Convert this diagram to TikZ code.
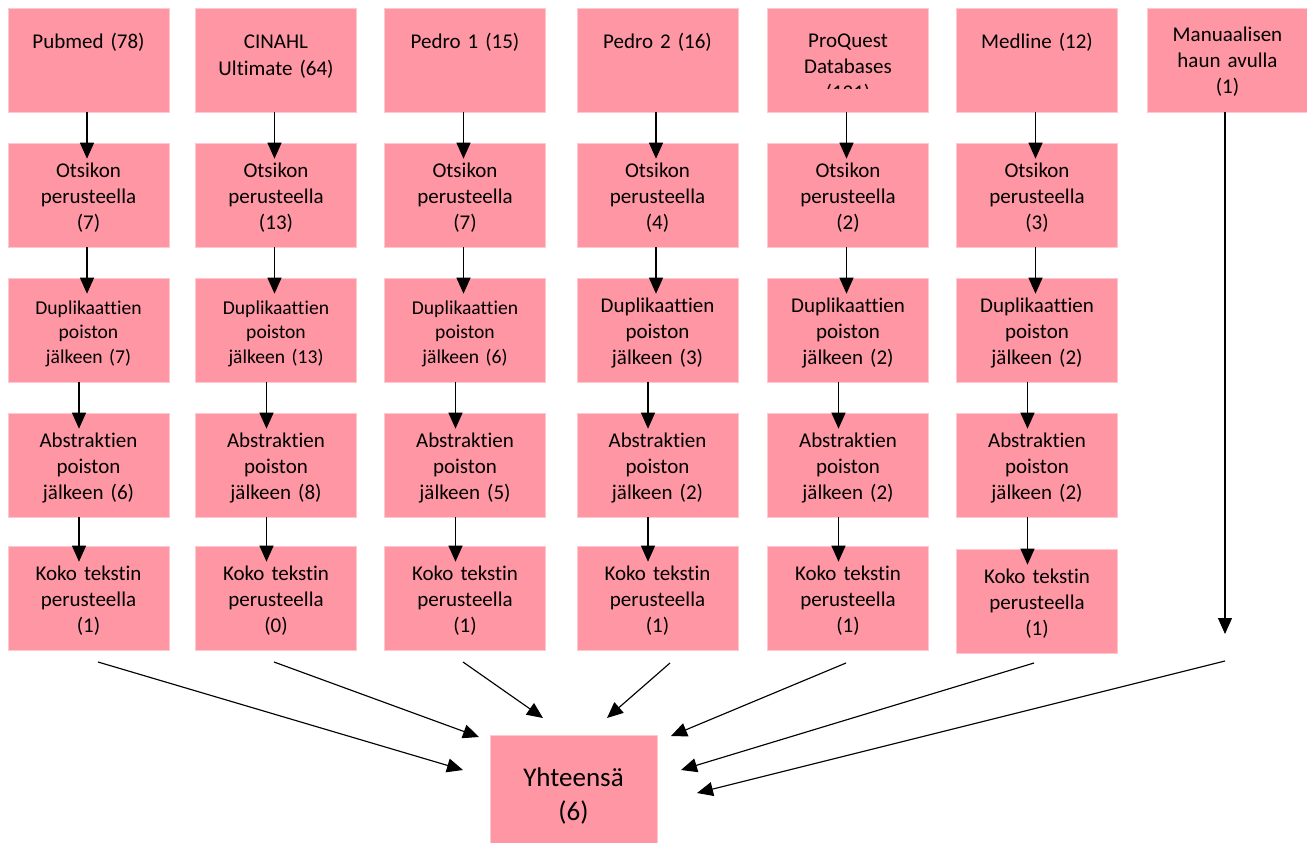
\documentclass[tikz,border=0pt]{standalone}
\usepackage{fontspec}
\setmainfont{Carlito}[Ligatures=NoCommon]
\usetikzlibrary{arrows.meta,calc}
\definecolor{boxpink}{RGB}{255,150,164}
\definecolor{boxedge}{RGB}{255,200,206}
\begin{document}
\begin{tikzpicture}[x=1pt,y=-1pt,
  box/.style={fill=boxpink, draw=boxedge, line width=0.6pt, minimum width=161pt,
    minimum height=104pt, inner sep=0pt, text width=150pt, align=center,
    font=\fontsize{21}{26}\selectfont,
    execute at begin node={\rule{0pt}{20.5pt}}},
  smallf/.style={font=\fontsize{19.6}{24.5}\selectfont,
    execute at begin node={\rule{0pt}{15pt}}},
  toptext/.style={anchor=base, inner sep=0pt, text width=158pt, align=center,
    font=\fontsize{21}{26}\selectfont},
  arr/.style={draw=black, line width=1.15pt, -{Triangle[length=16pt,width=14pt]}},
  varr/.style={arr, shorten >=-16pt},
]
\useasboundingbox (0,0) rectangle (1307,843);
\clip (0,0) rectangle (1307,843);

% ---- row 1 (sources)
\node[box] (b11) at (88.5,60) {};
\node[box] (b21) at (276,60) {};
\node[box] (b31) at (465,60) {};
\node[box] (b41) at (657.5,60) {};
\node[box] (b51) at (848,60) {};
\node[box] (b61) at (1037,60) {};
\node[box] (b71) at (1227.5,60) {};

\node[toptext] (t1) at (88.5,49) {Pubmed (78)};
\node[toptext] (t2) at (276,49) {CINAHL\\Ultimate (64)};
\node[toptext] (t3) at (465,49) {Pedro 1 (15)};
\node[toptext] (t4) at (657.5,49) {Pedro 2 (16)};
\begin{scope}
  \clip (767,8) rectangle (929,89);
  \node[toptext] (t5) at (848,48) {ProQuest\\Databases\\(121)};
\end{scope}
\node[toptext] (t6) at (1037,49) {Medline (12)};
\node[toptext] (t7) at (1227.5,42) {Manuaalisen\\haun avulla\\(1)};

% ---- row 2
\node[box] (b12) at (88.5,195) {Otsikon\\perusteella\\(7)};
\node[box] (b22) at (276,195) {Otsikon\\perusteella\\(13)};
\node[box] (b32) at (465,195) {Otsikon\\perusteella\\(7)};
\node[box] (b42) at (657.5,195) {Otsikon\\perusteella\\(4)};
\node[box] (b52) at (848,195) {Otsikon\\perusteella\\(2)};
\node[box] (b62) at (1037,195) {Otsikon\\perusteella\\(3)};

% ---- row 3
\node[box,smallf] (b13) at (88.5,330) {Duplikaattien\\poiston\\jälkeen (7)};
\node[box,smallf] (b23) at (276,330) {Duplikaattien\\poiston\\jälkeen (13)};
\node[box,smallf] (b33) at (465,330) {Duplikaattien\\poiston\\jälkeen (6)};
\node[box] (b43) at (657.5,330) {Duplikaattien\\poiston\\jälkeen (3)};
\node[box] (b53) at (848,330) {Duplikaattien\\poiston\\jälkeen (2)};
\node[box] (b63) at (1037,330) {Duplikaattien\\poiston\\jälkeen (2)};

% ---- row 4
\node[box] (b14) at (88.5,465) {Abstraktien\\poiston\\jälkeen (6)};
\node[box] (b24) at (276,465) {Abstraktien\\poiston\\jälkeen (8)};
\node[box] (b34) at (465,465) {Abstraktien\\poiston\\jälkeen (5)};
\node[box] (b44) at (657.5,465) {Abstraktien\\poiston\\jälkeen (2)};
\node[box] (b54) at (848,465) {Abstraktien\\poiston\\jälkeen (2)};
\node[box] (b64) at (1037,465) {Abstraktien\\poiston\\jälkeen (2)};

% ---- row 5
\node[box] (b15) at (88.5,598) {Koko tekstin\\perusteella\\(1)};
\node[box] (b25) at (276,598) {Koko tekstin\\perusteella\\(0)};
\node[box] (b35) at (465,598) {Koko tekstin\\perusteella\\(1)};
\node[box] (b45) at (657.5,598) {Koko tekstin\\perusteella\\(1)};
\node[box] (b55) at (848,598) {Koko tekstin\\perusteella\\(1)};
\node[box] (b65) at (1037,601) {Koko tekstin\\perusteella\\(1)};

% ---- total
\node[box, minimum width=167pt, minimum height=120pt, text width=160pt,
  font=\fontsize{27}{34}\selectfont,
  execute at begin node={}] (tot) at (573.5,795) {Yhteensä\\(6)};

% ---- vertical arrows
\foreach \c in {1,...,6}{
  \draw[varr] ([xshift=-1.5pt]b\c1.south) -- ([xshift=-1.5pt]b\c2.north);
  \draw[varr] ([xshift=-1.5pt]b\c2.south) -- ([xshift=-1.5pt]b\c3.north);
  \draw[varr] ([xshift=-9.5pt]b\c3.south) -- ([xshift=-9.5pt]b\c4.north);
  \draw[varr] ([xshift=-9.5pt]b\c4.south) -- ([xshift=-9.5pt]b\c5.north);
}
\coordinate (v7) at (1225,634);
\draw[arr] ([xshift=-2.5pt]b71.south) -- (v7);

% ---- converging arrows
\coordinate (s1) at (98,662);   \coordinate (e1) at (463,770);
\coordinate (s2) at (274,662);  \coordinate (e2) at (479,737);
\coordinate (s3) at (463,662);  \coordinate (e3) at (543,718);
\coordinate (s4) at (670,663);  \coordinate (e4) at (607,718);
\coordinate (s5) at (846,663);  \coordinate (e5) at (671,736);
\coordinate (s6) at (1034,663); \coordinate (e6) at (681,770);
\coordinate (s7) at (1225,661); \coordinate (e7) at (697,793);
\foreach \i in {1,...,7}{
  \draw[arr] (s\i) -- (e\i);
}
\end{tikzpicture}
\end{document}
